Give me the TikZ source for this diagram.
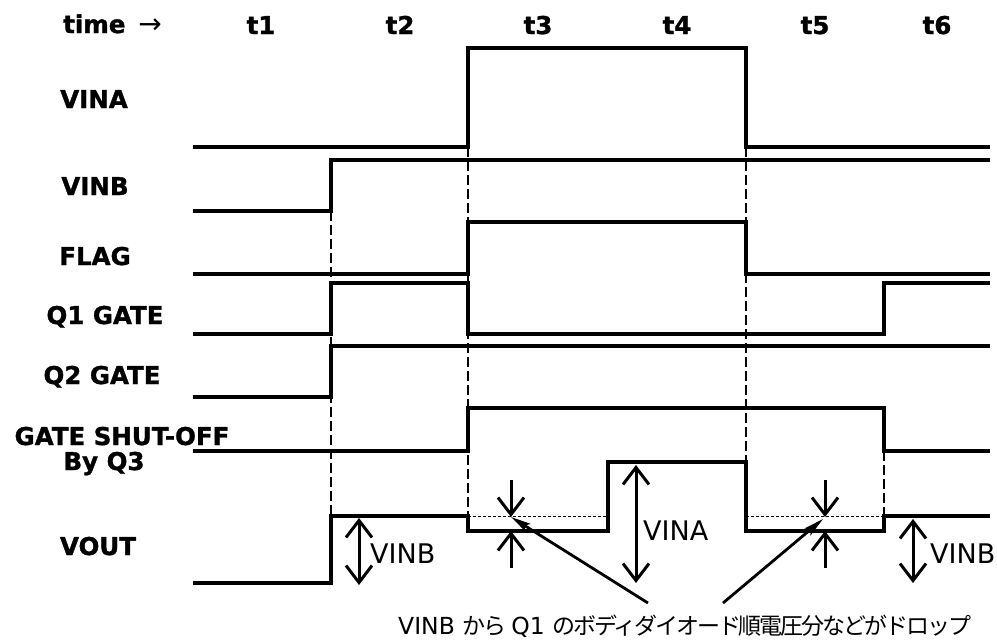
\documentclass[tikz,border=0pt]{standalone}
\usepackage{fontspec}
\setmainfont{DejaVu Sans}[BoldFeatures={FakeBold=1.3}]
\newfontfamily\jpfont{Noto Sans CJK JP}[LetterSpace=-9]
\usetikzlibrary{arrows.meta}
\newcommand{\latsm}{\fontsize{23.5}{26}\selectfont}
\newcommand{\jpsm}{\jpfont\fontsize{23}{26}\selectfont}
\begin{document}
\begin{tikzpicture}[x=1pt,y=-1pt,
  sig/.style={line width=3.8pt, line join=miter},
  guide/.style={line width=2.2pt, dash pattern=on 10pt off 4pt},
  dotl/.style={line width=0.9pt, dash pattern=on 3pt off 2pt},
  lab/.style={font=\bfseries\fontsize{24.5}{27}\selectfont, inner sep=0pt},
  ann/.style={font=\fontsize{27}{30}\selectfont, inner sep=0pt, anchor=base west},
  dimarr/.style={line width=3pt, {Straight Barb[length=17pt,width=26pt]}-{Straight Barb[length=17pt,width=26pt]}},
  onearr/.style={line width=3pt, -{Straight Barb[length=17pt,width=26pt]}},
  ptr/.style={line width=2.8pt, -{Stealth[length=20pt,width=9pt,inset=4pt]}}]
\useasboundingbox (0,0) rectangle (997,641);

% header
\node[lab, anchor=base west] (time) at (63,33) {time\hspace{13pt}{\mdseries\fontsize{28}{30}\selectfont →}};
\node[lab, anchor=base] (t1) at (261,34) {t1};
\node[lab, anchor=base] (t2) at (400,34) {t2};
\node[lab, anchor=base] (t3) at (538,34) {t3};
\node[lab, anchor=base] (t4) at (677,34) {t4};
\node[lab, anchor=base] (t5) at (815,34) {t5};
\node[lab, anchor=base] (t6) at (937,34) {t6};

% signal names
\node[lab, anchor=base] (lvina) at (94,108) {VINA};
\node[lab, anchor=base] (lvinb) at (95,195) {VINB};
\node[lab, anchor=base] (lflag) at (95,265) {FLAG};
\node[lab, anchor=base] (lq1) at (105,324) {Q1 GATE};
\node[lab, anchor=base] (lq2) at (102,384) {Q2 GATE};
\node[lab, anchor=base] (lgso) at (122,445) {GATE SHUT-OFF};
\node[lab, anchor=base] (lby) at (104,470) {By Q3};
\node[lab, anchor=base] (lvout) at (98,555) {VOUT};

% guide lines
\draw[guide] (331,211) -- (331,516);
\draw[guide] (468,147) -- (468,516);
\draw[guide] (746,147) -- (746,462);
\draw[guide] (884,451) -- (884,516);

% dotted reference level
\draw[dotl] (468,516) -- (608,516);
\draw[dotl] (746,516) -- (884,516);

% waveforms
\draw[sig] (193,147) -- (468,147) -- (468,48) -- (746,48) -- (746,147) -- (990,147);
\draw[sig] (193,211) -- (331,211) -- (331,160) -- (990,160);
\draw[sig] (193,274) -- (468,274) -- (468,222) -- (746,222) -- (746,274) -- (990,274);
\draw[sig] (193,334) -- (331,334) -- (331,283) -- (468,283) -- (468,334) -- (884,334) -- (884,283) -- (990,283);
\draw[sig] (193,397) -- (331,397) -- (331,346) -- (990,346);
\draw[sig] (193,451) -- (468,451) -- (468,408) -- (884,408) -- (884,451) -- (990,451);
\draw[sig] (193,583) -- (331,583) -- (331,516) -- (468,516) -- (468,531) -- (608,531) -- (608,462) -- (746,462) -- (746,531) -- (884,531) -- (884,516) -- (990,516);

% dimension arrows
\coordinate (d1a) at (359,518); \coordinate (d1b) at (359,585);
\draw[dimarr] (d1a) -- (d1b);
\node[ann] (avinb1) at (370,563) {VINB};
\coordinate (d2a) at (636,465); \coordinate (d2b) at (636,583);
\draw[dimarr] (d2a) -- (d2b);
\node[ann] (avina) at (643,540) {VINA};
\coordinate (d3a) at (913,519); \coordinate (d3b) at (913,583);
\draw[dimarr] (d3a) -- (d3b);
\node[ann] (avinb2) at (930,563) {VINB};

% small drop arrows
\coordinate (s1a) at (511,480); \coordinate (s1b) at (511,517);
\coordinate (s1c) at (511,568); \coordinate (s1d) at (511,531);
\draw[onearr] (s1a) -- (s1b);
\draw[onearr] (s1c) -- (s1d);
\coordinate (s2a) at (825,480); \coordinate (s2b) at (825,517);
\coordinate (s2c) at (825,568); \coordinate (s2d) at (825,531);
\draw[onearr] (s2a) -- (s2b);
\draw[onearr] (s2c) -- (s2d);

% note
\node[inner sep=0pt, anchor=base west] (note) at (398,634)
  {\latsm VINB {\jpsm から}\hspace{5pt}Q1 {\jpsm のボディダイオード順電圧分などがドロップ}};
\coordinate (p1) at (648,603); \coordinate (p2) at (723,603);
\draw[ptr] (p1) -- (s1b);
\draw[ptr] (p2) -- (823,519);
\end{tikzpicture}
\end{document}
